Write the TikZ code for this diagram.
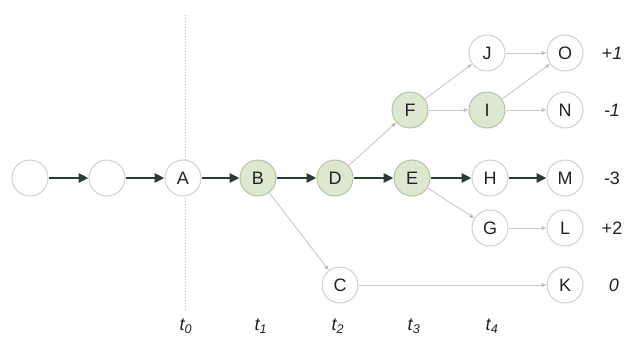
\documentclass[tikz,border=0pt]{standalone}
\usepackage{fontspec}
\setmainfont{Liberation Sans}
\usetikzlibrary{arrows.meta}
\definecolor{nodeline}{HTML}{CFCFCF}
\definecolor{greenfill}{HTML}{DDE8D1}
\definecolor{greenline}{HTML}{B4C4A6}
\definecolor{thick}{HTML}{2E3B33}
\definecolor{thinline}{HTML}{CCCCCC}
\definecolor{txt}{HTML}{222222}
\begin{document}
\begin{tikzpicture}[x=1pt,y=-1pt,
  st/.style={circle,draw=nodeline,line width=1pt,minimum size=36pt,inner sep=0pt,font=\fontsize{18}{18}\selectfont,text=txt},
  gst/.style={st,fill=greenfill,draw=greenline},
  bigarr/.style={draw=thick,line width=2.6pt,-{Triangle[length=10pt,width=9pt]}},
  thinarr/.style={draw=thinline,line width=1pt,-{Triangle[length=5pt,width=4pt,fill=thick]}},
  val/.style={font=\fontsize{18}{18}\selectfont,text=txt},
  ival/.style={font=\fontsize{18}{18}\selectfont\itshape,text=txt},
  tl/.style={font=\fontsize{18}{18}\selectfont\itshape,text=txt}]
\useasboundingbox (0,0) rectangle (635,340);
% dotted time line
\coordinate (top) at (185,15);
\coordinate (bot) at (185,312);
\draw[draw=gray!60,line width=1pt,dotted] (top) -- (bot);
% nodes
\node[st] (p1) at (30,178) {};
\node[st] (p2) at (107,178) {};
\node[st,fill=white] (A) at (183,178) {A};
\node[gst] (B) at (258,178) {B};
\node[gst] (D) at (335,178) {D};
\node[gst] (E) at (412,178) {E};
\node[st] (H) at (490,178) {H};
\node[st] (M) at (565,178) {M};
\node[gst] (F) at (410,110) {F};
\node[gst] (I) at (487,110) {I};
\node[st] (N) at (565,110) {N};
\node[st] (J) at (487,53) {J};
\node[st] (O) at (565,53) {O};
\node[st] (G) at (490,228) {G};
\node[st] (L) at (565,228) {L};
\node[st] (C) at (340,285) {C};
\node[st] (K) at (565,285) {K};
% values
\node[ival] (v1) at (612,53) {+1};
\node[ival] (v2) at (612,110) {-1};
\node[val] (v3) at (612,178) {-3};
\node[val] (v4) at (612,228) {+2};
\node[ival] (v5) at (614,285) {0};
% time labels
\node[tl] (t0) at (186,326) {t\textsubscript{0}};
\node[tl] (t1) at (261,326) {t\textsubscript{1}};
\node[tl] (t2) at (338,326) {t\textsubscript{2}};
\node[tl] (t3) at (414,326) {t\textsubscript{3}};
\node[tl] (t4) at (492,326) {t\textsubscript{4}};
% thick chain
\draw[bigarr] (p1) -- (p2);
\draw[bigarr] (p2) -- (A);
\draw[bigarr] (A) -- (B);
\draw[bigarr] (B) -- (D);
\draw[bigarr] (D) -- (E);
\draw[bigarr] (E) -- (H);
\draw[bigarr] (H) -- (M);
% thin edges
\draw[thinarr] (B) -- (C);
\draw[thinarr] (C) -- (K);
\draw[thinarr] (D) -- (F);
\draw[thinarr] (F) -- (J);
\draw[thinarr] (F) -- (I);
\draw[thinarr] (J) -- (O);
\draw[thinarr] (I) -- (O);
\draw[thinarr] (I) -- (N);
\draw[thinarr] (E) -- (G);
\draw[thinarr] (G) -- (L);
\end{tikzpicture}
\end{document}
